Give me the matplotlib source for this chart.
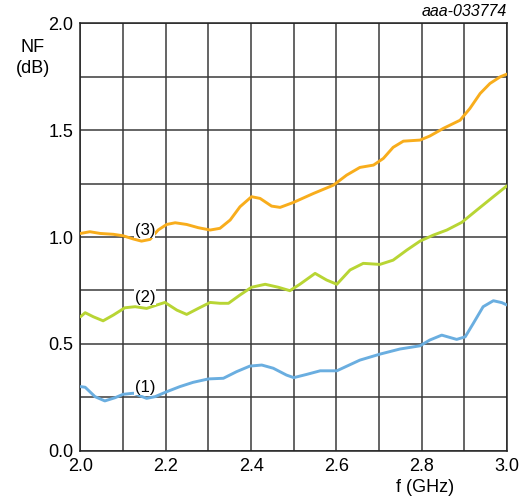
import matplotlib.pyplot as plt
import numpy as np

plt.rcParams["font.family"] = ["Liberation Sans", "DejaVu Sans"]

# curve (3)
f3 = [2.00, 2.022, 2.046, 2.077, 2.10, 2.124, 2.143, 2.163, 2.182, 2.202, 2.222,
      2.249, 2.276, 2.304, 2.327, 2.351, 2.374, 2.401, 2.421, 2.448, 2.468, 2.499,
      2.546, 2.593, 2.624, 2.655, 2.687, 2.71, 2.733, 2.757, 2.796, 2.819, 2.851,
      2.89, 2.913, 2.937, 2.96, 2.984, 3.00]
nf3 = [1.017, 1.025, 1.017, 1.013, 1.006, 0.991, 0.981, 0.989, 1.033, 1.059, 1.067,
       1.059, 1.044, 1.033, 1.041, 1.08, 1.142, 1.189, 1.181, 1.145, 1.139, 1.162,
       1.204, 1.243, 1.29, 1.326, 1.337, 1.368, 1.42, 1.449, 1.454, 1.473, 1.509,
       1.547, 1.602, 1.672, 1.719, 1.75, 1.763]

# curve (2)
f2 = [2.00, 2.011, 2.03, 2.053, 2.077, 2.104, 2.128, 2.155, 2.179, 2.198, 2.226,
      2.249, 2.276, 2.304, 2.327, 2.347, 2.374, 2.401, 2.433, 2.464, 2.491, 2.515,
      2.55, 2.577, 2.601, 2.632, 2.663, 2.702, 2.733, 2.765, 2.796, 2.827, 2.859,
      2.894, 2.929, 2.968, 3.00]
nf2 = [0.627, 0.646, 0.627, 0.608, 0.635, 0.669, 0.674, 0.666, 0.682, 0.694, 0.658,
       0.638, 0.666, 0.694, 0.69, 0.69, 0.729, 0.765, 0.779, 0.765, 0.749, 0.78,
       0.83, 0.799, 0.779, 0.846, 0.877, 0.872, 0.892, 0.939, 0.981, 1.009, 1.033,
       1.069, 1.126, 1.189, 1.24]

# curve (1)
f1 = [2.00, 2.011, 2.034, 2.057, 2.081, 2.10, 2.124, 2.155, 2.175, 2.202, 2.233,
      2.264, 2.30, 2.335, 2.366, 2.397, 2.425, 2.452, 2.483, 2.50, 2.53, 2.562,
      2.601, 2.655, 2.702, 2.749, 2.796, 2.819, 2.847, 2.882, 2.902, 2.921, 2.944,
      2.968, 2.988, 3.00]
nf1 = [0.30, 0.297, 0.253, 0.233, 0.248, 0.264, 0.269, 0.245, 0.253, 0.276, 0.30,
       0.32, 0.336, 0.339, 0.37, 0.396, 0.401, 0.386, 0.354, 0.342, 0.357, 0.374,
       0.374, 0.424, 0.452, 0.476, 0.491, 0.518, 0.541, 0.521, 0.533, 0.596, 0.674,
       0.702, 0.693, 0.682]

labels = ["(1)", "(2)", "(3)"]
label_y = [0.297, 0.718, 1.03]

fig = plt.figure(figsize=(5.2, 4.99), dpi=100)
ax = fig.add_axes([0.1548, 0.0968, 0.8202, 0.8562])

for f, nf, c in [(f1, nf1, "#6aaee0"), (f2, nf2, "#b8d534"), (f3, nf3, "#f8ad1c")]:
    ax.plot(f, nf, color=c, lw=2.1, zorder=3,
            solid_joinstyle="round", solid_capstyle="round")

for lab, yy in zip(labels, label_y):
    ax.text(2.151, yy, lab, fontsize=12, ha="center", va="center", zorder=4,
            bbox=dict(boxstyle="square,pad=0.02", fc="white", ec="none"))

ax.set_xlim(2.0, 3.0)
ax.set_ylim(0.0, 2.0)
ax.set_xticks(np.arange(2.0, 3.01, 0.2))
ax.set_xticks(np.arange(2.0, 3.01, 0.1), minor=True)
ax.set_yticks(np.arange(0.0, 2.01, 0.5))
ax.set_yticks(np.arange(0.0, 2.01, 0.25), minor=True)
ax.set_xticklabels([f"{v:.1f}" for v in np.arange(2.0, 3.01, 0.2)])
ax.set_yticklabels([f"{v:.1f}" for v in np.arange(0.0, 2.01, 0.5)])
ax.tick_params(which="both", length=0, labelsize=13, pad=5)
ax.grid(which="both", color="#3a3a3a", lw=1.1)
ax.set_axisbelow(True)
for s in ax.spines.values():
    s.set_color("#222222")
    s.set_linewidth(1.1)

fig.text(33 / 520, 1 - 58 / 499, "NF\n(dB)", ha="center", va="center",
         fontsize=13, linespacing=1.25)
fig.text(425 / 520, 1 - 488 / 499, "f (GHz)", ha="center", va="center", fontsize=13)
fig.text(507 / 520, 1 - 12 / 499, "aaa-033774", ha="right", va="center",
         fontsize=11.5, style="italic")

fig.savefig("out.png", dpi=100)
